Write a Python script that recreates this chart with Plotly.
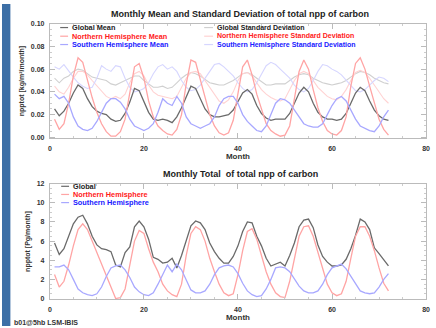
import plotly.graph_objects as go

months = list(range(1, 73))

global_mean = [0.025, 0.019, 0.023, 0.030, 0.039, 0.046, 0.043, 0.034, 0.027, 0.023, 0.021, 0.020,
               0.016, 0.014, 0.015, 0.021, 0.031, 0.043, 0.041, 0.031, 0.022, 0.016, 0.015, 0.016,
               0.015, 0.013, 0.018, 0.026, 0.035, 0.045, 0.043, 0.034, 0.025, 0.020, 0.018, 0.018,
               0.019, 0.020, 0.024, 0.032, 0.039, 0.042, 0.038, 0.028, 0.021, 0.017, 0.015, 0.016,
               0.016, 0.016, 0.021, 0.030, 0.039, 0.044, 0.040, 0.030, 0.022, 0.018, 0.016, 0.016,
               0.015, 0.016, 0.021, 0.030, 0.039, 0.044, 0.041, 0.032, 0.024, 0.019, 0.016, 0.015]
nh_mean = [0.016, 0.007, 0.012, 0.030, 0.054, 0.070, 0.066, 0.050, 0.035, 0.022, 0.012, 0.005,
           0.001, 0.001, 0.005, 0.016, 0.040, 0.062, 0.065, 0.052, 0.032, 0.018, 0.010, 0.006,
           0.003, 0.002, 0.007, 0.020, 0.047, 0.068, 0.066, 0.050, 0.034, 0.020, 0.010, 0.004,
           0.002, 0.004, 0.015, 0.040, 0.062, 0.068, 0.055, 0.038, 0.024, 0.012, 0.006, 0.003,
           0.001, 0.002, 0.010, 0.035, 0.058, 0.068, 0.060, 0.042, 0.026, 0.014, 0.006, 0.003,
           0.002, 0.006, 0.018, 0.045, 0.065, 0.070, 0.060, 0.045, 0.030, 0.016, 0.007, 0.002]
sh_mean = [0.038, 0.034, 0.036, 0.030, 0.018, 0.010, 0.007, 0.006, 0.008, 0.014, 0.022, 0.030,
           0.034, 0.034, 0.031, 0.025, 0.016, 0.010, 0.008, 0.006, 0.008, 0.012, 0.022, 0.034,
           0.030, 0.028, 0.036, 0.030, 0.018, 0.012, 0.010, 0.008, 0.010, 0.012, 0.018, 0.028,
           0.034, 0.036, 0.036, 0.030, 0.020, 0.014, 0.010, 0.006, 0.005, 0.010, 0.020, 0.030,
           0.034, 0.033, 0.030, 0.024, 0.018, 0.012, 0.010, 0.009, 0.009, 0.012, 0.020, 0.028,
           0.034, 0.036, 0.032, 0.024, 0.016, 0.010, 0.008, 0.006, 0.005, 0.010, 0.018, 0.024]
global_std = [0.052, 0.048, 0.052, 0.054, 0.058, 0.060, 0.059, 0.056, 0.053, 0.052, 0.051, 0.050,
              0.047, 0.046, 0.048, 0.050, 0.052, 0.054, 0.054, 0.050, 0.047, 0.044, 0.044, 0.045,
              0.043, 0.044, 0.048, 0.052, 0.055, 0.057, 0.056, 0.054, 0.051, 0.048, 0.047, 0.046,
              0.046, 0.048, 0.050, 0.053, 0.056, 0.057, 0.055, 0.052, 0.049, 0.046, 0.046, 0.047,
              0.047, 0.047, 0.050, 0.053, 0.055, 0.056, 0.055, 0.052, 0.050, 0.048, 0.047, 0.046,
              0.047, 0.048, 0.050, 0.053, 0.056, 0.058, 0.057, 0.055, 0.052, 0.050, 0.048, 0.047]
nh_std = [0.045, 0.040, 0.038, 0.044, 0.052, 0.058, 0.058, 0.055, 0.050, 0.045, 0.040, 0.036,
          0.034, 0.036, 0.034, 0.038, 0.048, 0.056, 0.058, 0.054, 0.046, 0.040, 0.037, 0.036,
          0.035, 0.034, 0.036, 0.044, 0.052, 0.057, 0.058, 0.056, 0.050, 0.044, 0.038, 0.032,
          0.030, 0.033, 0.040, 0.050, 0.056, 0.057, 0.054, 0.048, 0.042, 0.038, 0.035, 0.033,
          0.032, 0.034, 0.042, 0.050, 0.056, 0.058, 0.056, 0.050, 0.044, 0.040, 0.036, 0.034,
          0.033, 0.036, 0.042, 0.050, 0.057, 0.059, 0.057, 0.052, 0.046, 0.040, 0.034, 0.030]
sh_std = [0.062, 0.060, 0.064, 0.058, 0.053, 0.048, 0.045, 0.043, 0.044, 0.052, 0.063, 0.060,
          0.058, 0.063, 0.062, 0.052, 0.044, 0.040, 0.041, 0.043, 0.048, 0.056, 0.062, 0.064,
          0.060, 0.062, 0.058, 0.050, 0.044, 0.041, 0.042, 0.046, 0.052, 0.058, 0.064, 0.065,
          0.062, 0.058, 0.054, 0.048, 0.043, 0.040, 0.042, 0.048, 0.056, 0.063, 0.066, 0.064,
          0.060, 0.056, 0.052, 0.046, 0.042, 0.040, 0.043, 0.050, 0.058, 0.064, 0.063, 0.060,
          0.058, 0.055, 0.050, 0.045, 0.041, 0.040, 0.042, 0.046, 0.050, 0.053, 0.052, 0.049]

global_total = [5.8, 4.6, 5.2, 6.5, 7.8, 8.5, 8.7, 7.8, 6.5, 5.6, 5.2, 5.1,
                4.9, 3.5, 3.3, 4.8, 5.4, 7.5, 8.1, 7.5, 6.2, 4.3, 4.1, 3.7,
                3.8, 4.2, 3.2, 4.5, 6.0, 7.6, 8.1, 7.9, 7.2, 5.8, 4.9, 4.2,
                3.7, 3.7, 4.4, 5.5, 7.0, 8.0, 7.9, 6.5, 5.5, 4.2, 3.4, 3.6,
                3.8, 3.4, 4.5, 5.8, 7.5, 8.2, 8.3, 7.4, 5.6, 4.4, 3.8, 3.4,
                3.4, 3.5, 4.1, 5.2, 6.6, 8.3, 8.0, 7.2, 5.3, 4.7, 4.0, 3.4]
nh_total = [2.5, 1.2, 1.8, 3.5, 5.5, 7.2, 7.8, 7.2, 6.0, 4.8, 3.8, 2.5,
            1.2, 0.0, 0.1, 1.0, 3.5, 6.0, 7.1, 6.8, 5.2, 3.8, 2.8, 1.5,
            0.8, 0.4, 0.2, 1.5, 4.5, 6.8, 7.5, 7.2, 6.0, 4.2, 2.8, 1.5,
            0.6, 0.3, 0.5, 2.5, 5.0, 7.0, 7.3, 6.2, 4.5, 2.8, 1.5, 0.6,
            0.2, 0.1, 1.8, 4.2, 6.5, 7.5, 7.6, 6.5, 4.8, 3.0, 1.5, 0.6,
            0.3, 0.5, 1.8, 4.2, 6.5, 7.5, 7.5, 6.5, 5.0, 3.2, 1.6, 0.8]
sh_total = [3.3, 3.3, 3.5, 3.0, 2.0, 1.0, 0.6, 0.4, 0.3, 0.5, 1.2, 2.3,
            3.2, 3.4, 3.5, 3.0, 2.2, 1.2, 0.7, 0.4, 0.3, 0.6, 1.5, 2.5,
            3.5, 2.8, 3.6, 3.0, 2.0, 0.9, 0.6, 0.6, 0.8, 1.5, 2.5, 3.2,
            3.4, 3.5, 3.3, 2.6, 1.6, 0.8, 0.4, 0.2, 0.3, 1.0, 2.0, 3.2,
            3.3, 3.2, 2.8, 2.0, 1.3, 0.8, 0.6, 0.6, 0.8, 1.5, 2.5, 3.2,
            3.4, 3.6, 3.1, 2.3, 1.5, 0.8, 0.6, 0.5, 0.6, 1.2, 2.0, 2.6]

top_title = "Monthly Mean and Standard Deviation of total npp of carbon"
bottom_title = "Monthly Total  of total npp of carbon"
top_ytitle = "npptot [kg/m\u00b2/month]"
bottom_ytitle = "npptot [Pg/month]"
xtitle = "Month"
footer = "b01@5hb LSM-IBIS"

W, H = 436, 328
FONT = "Liberation Sans"

C_GM, C_NM, C_SM = "#6a6a6a", "#ffa4a4", "#a8a8ff"
C_GS, C_NS, C_SS = "#d0d0d0", "#ffd2d2", "#d6d6ff"

fig = go.Figure()

def add(x, y, color, width, xa, ya):
    fig.add_trace(go.Scatter(x=x, y=y, mode="lines", line=dict(color=color, width=width),
                             xaxis=xa, yaxis=ya, showlegend=False, hoverinfo="skip"))

# top panel (std first so means on top)
add(months, global_std, C_GS, 1.1, "x", "y")
add(months, nh_std, C_NS, 1.1, "x", "y")
add(months, sh_std, C_SS, 1.1, "x", "y")
add(months, global_mean, C_GM, 1.3, "x", "y")
add(months, nh_mean, C_NM, 1.3, "x", "y")
add(months, sh_mean, C_SM, 1.3, "x", "y")
# bottom panel
add(months, global_total, C_GM, 1.3, "x2", "y2")
add(months, nh_total, C_NM, 1.3, "x2", "y2")
add(months, sh_total, C_SM, 1.3, "x2", "y2")

xd = [48.5 / W, 430 / W]
top_dom = [(H - 137) / H, (H - 20) / H]
bot_dom = [(H - 301) / H, (H - 183) / H]

tickfont = dict(family=FONT, size=7, color="#333333", weight="bold")
axis_common = dict(showline=True, linecolor="#bbbbbb", linewidth=1, mirror="ticks",
                   ticks="inside", ticklen=5, tickcolor="#bbbbbb", showgrid=False,
                   zeroline=False, tickfont=tickfont, ticklabelstandoff=3)

def xaxis(anchor):
    return dict(axis_common, domain=xd, range=[0, 80], tickvals=[0, 20, 40, 60, 80],
                anchor=anchor, minor=dict(dtick=5, ticklen=2, tickcolor="#cccccc", ticks="inside"),
                title=dict(text="<b>" + xtitle + "</b>", font=dict(family=FONT, size=8, color="#333"),
                           standoff=0))

fig.update_layout(
    width=W, height=H, margin=dict(l=0, r=0, t=0, b=0),
    paper_bgcolor="white", plot_bgcolor="white",
    xaxis=xaxis("y"),
    yaxis=dict(axis_common, domain=top_dom, range=[-0.001, 0.1], tickvals=[0, 0.02, 0.04, 0.06, 0.08, 0.10],
               ticktext=["0.00", "0.02", "0.04", "0.06", "0.08", "0.10"], anchor="x",
               minor=dict(dtick=0.005, ticklen=2, tickcolor="#cccccc", ticks="inside"),
               title=dict(text="<b>" + top_ytitle + "</b>", font=dict(family=FONT, size=7, color="#333"),
                          standoff=5)),
    xaxis2=xaxis("y2"),
    yaxis2=dict(axis_common, domain=bot_dom, range=[-0.1, 12], tickvals=[0, 2, 4, 6, 8, 10, 12], anchor="x2",
                minor=dict(dtick=0.5, ticklen=2, tickcolor="#cccccc", ticks="inside"),
                title=dict(text="<b>" + bottom_ytitle + "</b>", font=dict(family=FONT, size=7, color="#333"),
                           standoff=5)),
    showlegend=False,
)

shapes = [dict(type="rect", xref="paper", yref="paper", x0=0, x1=8.5 / W, y0=0, y1=1,
               fillcolor="#3d6fa6", line=dict(width=0), layer="above")]
annotations = []

def px(x):
    return x / W

def py(y):
    return 1 - y / H

annotations.append(dict(text="<b>" + top_title + "</b>", x=px(241), y=py(10), xref="paper", yref="paper",
                        showarrow=False, xanchor="center", yanchor="middle",
                        font=dict(family=FONT, size=9, color="#222")))
annotations.append(dict(text="<b>" + bottom_title + "</b>", x=px(242), y=py(173), xref="paper", yref="paper",
                        showarrow=False, xanchor="center", yanchor="middle",
                        font=dict(family=FONT, size=9, color="#222")))
annotations.append(dict(text="<b>" + footer + "</b>", x=px(10), y=py(324), xref="paper", yref="paper",
                        showarrow=False, xanchor="left", yanchor="middle",
                        font=dict(family=FONT, size=7, color="#333")))

def legend(items, x_line0, x_line1, x_text, ys, size):
    for (label, lcolor, tcolor), y in zip(items, ys):
        shapes.append(dict(type="line", xref="paper", yref="paper", x0=px(x_line0), x1=px(x_line1),
                           y0=py(y), y1=py(y), line=dict(color=lcolor, width=1.2)))
        annotations.append(dict(text="<b>" + label + "</b>", x=px(x_text), y=py(y), xref="paper", yref="paper",
                                showarrow=False, xanchor="left", yanchor="middle",
                                font=dict(family=FONT, size=size, color=tcolor)))

legend([("Global Mean", C_GM, "#222222"),
        ("Northern Hemisphere Mean", C_NM, "#ff2020"),
        ("Southern Hemisphere Mean", C_SM, "#2020ff")],
       59, 67, 69, [24, 32.8, 41.3], 7.3)
legend([("Global Standard Deviation", C_GS, "#222222"),
        ("Northern Hemisphere Standard Deviation", C_NS, "#ff2020"),
        ("Southern Hemisphere Standard Deviation", C_SS, "#2020ff")],
       205, 214, 216, [24, 32.8, 41.3], 7)
legend([("Global", C_GM, "#222222"),
        ("Northern Hemisphere", C_NM, "#ff2020"),
        ("Southern Hemisphere", C_SM, "#2020ff")],
       60, 68, 70, [185.7, 194, 202.3], 7.3)

fig.update_layout(shapes=shapes, annotations=annotations)
fig.write_html("out.html")
